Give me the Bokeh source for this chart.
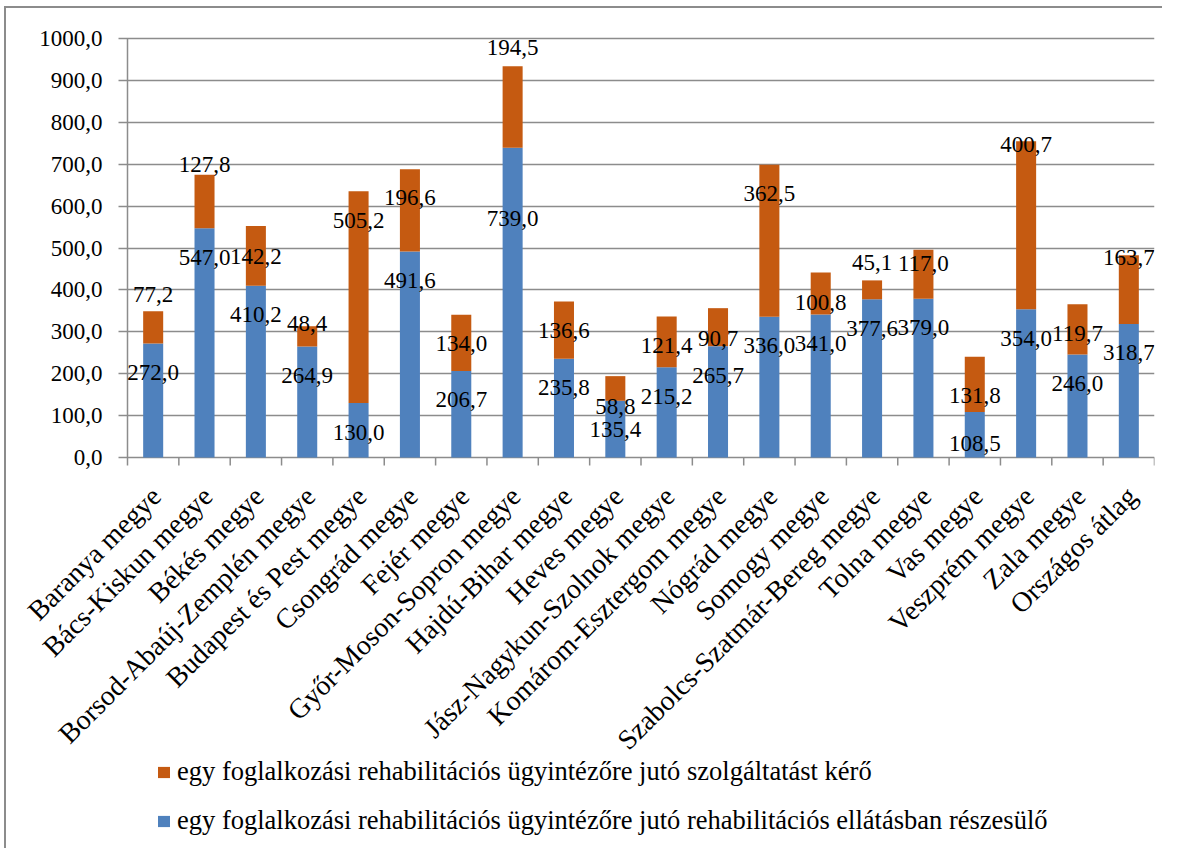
import math
from bokeh.plotting import figure
from bokeh.models import (ColumnDataSource, Range1d, FixedTicker, Legend, LegendItem)
from bokeh.core.properties import value
from bokeh.embed import file_html
from bokeh.resources import INLINE

categories = ["Baranya megye", "Bács-Kiskun megye", "Békés megye",
              "Borsod-Abaúj-Zemplén megye", "Budapest és Pest megye",
              "Csongrád megye", "Fejér megye", "Győr-Moson-Sopron megye",
              "Hajdú-Bihar megye", "Heves megye", "Jász-Nagykun-Szolnok megye",
              "Komárom-Esztergom megye", "Nógrád megye", "Somogy megye",
              "Szabolcs-Szatmár-Bereg megye", "Tolna megye", "Vas megye",
              "Veszprém megye", "Zala megye", "Országos átlag"]
ellatott = [272.0, 547.0, 410.2, 264.9, 130.0, 491.6, 206.7, 739.0, 235.8, 135.4,
            215.2, 265.7, 336.0, 341.0, 377.6, 379.0, 108.5, 354.0, 246.0, 318.7]
keroszam = [77.2, 127.8, 142.2, 48.4, 505.2, 196.6, 134.0, 194.5, 136.6, 58.8,
            121.4, 90.7, 362.5, 100.8, 45.1, 117.0, 131.8, 400.7, 119.7, 163.7]
series_names = ["egy foglalkozási rehabilitációs ügyintézőre jutó szolgáltatást kérő",
                "egy foglalkozási rehabilitációs ügyintézőre jutó rehabilitációs ellátásban részesülő"]
y_ticks = [0, 100, 200, 300, 400, 500, 600, 700, 800, 900, 1000]
y_tick_labels = ["0,0", "100,0", "200,0", "300,0", "400,0", "500,0",
                 "600,0", "700,0", "800,0", "900,0", "1000,0"]

# label nudges in screen pixels (positive = downward) relative to segment top
blue_label_nudge = [29, 29, 29, 29, 29, 29, 29, 71, 29, 29,
                    29, 29, 29, 29, 29, 29, 31, 29, 29, 29]
orange_label_nudge = [-17, -10, 30, -3, 29, 28, 29, -19, 29, 30,
                      29, 30, 29, 30, -18, 14, 39, 3, 29, 2]

BLUE = "#4F81BD"
ORANGE = "#C55A11"
GRID = "#8c8c8c"
FONT = "Liberation Serif"

# geometry (pixels)
PLOT_W = 1027         # pixels for the 20 categories
PLOT_H = 419          # pixels for 0..1000
LEFT_PAD = 119        # frame space left of the value axis (for tick labels)
TOP_PAD = 20          # frame space above 1000 (for the top tick label)
FRAME_H = 828         # frame extends below zero to hold category labels and legend
n = len(categories)
cat_w = PLOT_W / n
xs = [i + 0.5 for i in range(n)]
bounds_x = list(range(n + 1))
totals = [a + b for a, b in zip(ellatott, keroszam)]
fmt = lambda v: f"{v:.1f}".replace(".", ",")
x_min = -LEFT_PAD / cat_w
y_max = 1000 + 1000 * TOP_PAD / PLOT_H
y_min = y_max - 1000 * FRAME_H / PLOT_H

src = ColumnDataSource(dict(
    x=xs, blue=ellatott, total=totals, zero=[0] * n, cat=categories,
    blue_txt=[fmt(v) for v in ellatott], orange_txt=[fmt(v) for v in keroszam],
    bnudge=blue_label_nudge, onudge=orange_label_nudge,
))

p = figure(frame_width=PLOT_W + LEFT_PAD, frame_height=FRAME_H,
           min_border_left=2, min_border_right=8,
           min_border_top=10, min_border_bottom=2,
           x_range=Range1d(x_min, n), y_range=Range1d(y_min, y_max),
           output_backend="svg", toolbar_location=None)
p.styles = {"border-left": "2px solid #8c8c8c", "border-top": "2px solid #8c8c8c",
            "margin-left": "4px", "margin-top": "6px"}
p.outline_line_color = None
p.background_fill_color = "white"
p.border_fill_color = "white"

rb = p.vbar(x="x", width=0.39, bottom="zero", top="blue", source=src,
            fill_color=BLUE, line_color=None)
ro = p.vbar(x="x", width=0.39, bottom="blue", top="total", source=src,
            fill_color=ORANGE, line_color=None)

p.text(x="x", y="blue", text="blue_txt", y_offset="bnudge", source=src,
       text_align="center", text_baseline="middle",
       text_font=value(FONT), text_font_size="23px", text_color="black")
p.text(x="x", y="total", text="orange_txt", y_offset="onudge", source=src,
       text_align="center", text_baseline="middle",
       text_font=value(FONT), text_font_size="23px", text_color="black")

# category axis: tick marks between categories and rotated names
p.ray(x=bounds_x, y=[0] * (n + 1), length=8, angle=-math.pi / 2,
      length_units="screen", line_color=GRID, line_width=1.5)
p.text(x="x", y="zero", text="cat", source=src, angle=math.pi / 4,
       x_offset=3, y_offset=34, text_align="right", text_baseline="middle",
       text_font=value(FONT), text_font_size="28px", text_color="black")

# value axis, fixed at x = 0; its inward ticks form the horizontal gridlines
p.xaxis.visible = False
p.xgrid.visible = False
p.ygrid.visible = False

ya = p.yaxis[0]
ya.level = "underlay"
ya.fixed_location = 0
ya.ticker = FixedTicker(ticks=y_ticks)
ya.bounds = (0, 1000)
ya.major_label_overrides = {t: l for t, l in zip(y_ticks, y_tick_labels)}
ya.axis_line_color = GRID
ya.axis_line_width = 1.5
ya.major_tick_line_color = GRID
ya.major_tick_line_width = 1.5
ya.major_tick_out = 9
ya.major_tick_in = PLOT_W
ya.minor_tick_line_color = None
ya.major_label_text_font = FONT
ya.major_label_text_font_size = "23px"
ya.major_label_text_color = "black"
ya.major_label_standoff = 16

legend = Legend(items=[LegendItem(label=series_names[0], renderers=[ro]),
                       LegendItem(label=series_names[1], renderers=[rb])],
                location=(148, 10), orientation="vertical",
                glyph_width=15, glyph_height=14, label_standoff=6,
                label_height=28, spacing=18, padding=0, margin=0,
                border_line_color=None, background_fill_alpha=0,
                label_text_font=FONT, label_text_font_size="26.5px",
                label_text_color="black")
p.add_layout(legend, "center")

open("out.html", "w").write(file_html(p, INLINE))
